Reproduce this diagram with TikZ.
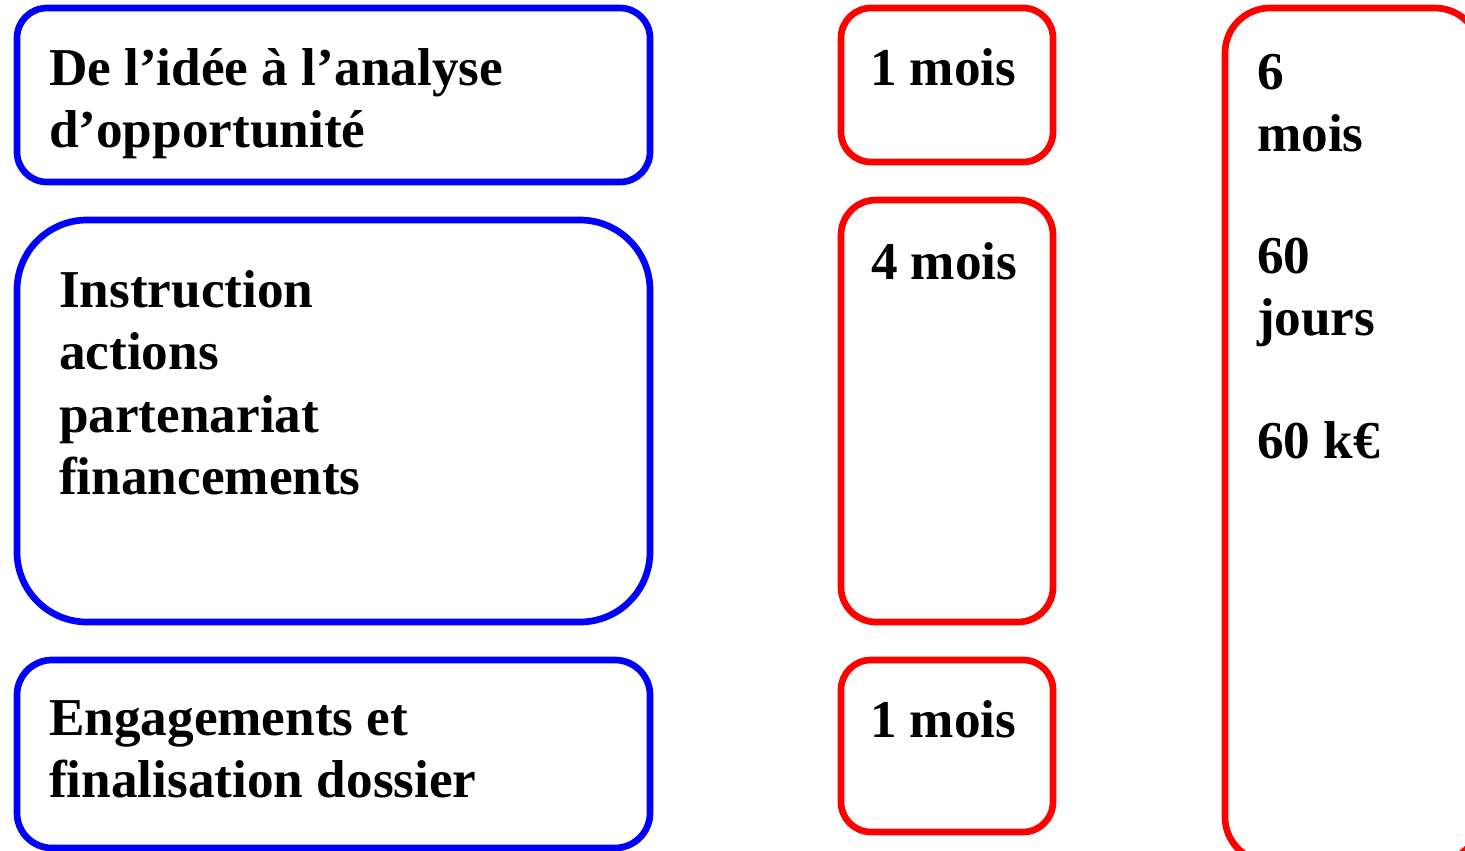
\documentclass[tikz,border=0pt]{standalone}
\usepackage{fontspec}
\setmainfont{Liberation Serif}
\usepackage{xcolor}
\definecolor{StepBlue}{HTML}{0000FF}
\definecolor{TimeRed}{HTML}{FF0000}
\usetikzlibrary{positioning}

\begin{document}
\begin{tikzpicture}[node distance=1cm, every node/.style={font=\fontsize{30.3}{35.3}\selectfont\bfseries}]
\tikzset{stepbox/.style={draw=StepBlue, line width=3.8pt, rounded corners=#1}}
\tikzset{timebox/.style={draw=TimeRed, line width=3.8pt, rounded corners=#1}}
\tikzset{txt/.style={inner sep=0pt, align=left}}
\useasboundingbox (0,0) rectangle (29.3,-17);
\clip (0,0) rectangle (29.3,-17);
% phases
\node[stepbox=0.6cm, minimum width=12.66cm, minimum height=3.48cm] (idee) at (6.67,-1.9) {};
\node[stepbox=1.4cm, minimum width=12.66cm, minimum height=8.04cm] (instruction) at (6.67,-8.42) {};
\node[stepbox=0.7cm, minimum width=12.66cm, minimum height=3.76cm] (engagement) at (6.67,-15.08) {};
% durees
\node[timebox=0.6cm, minimum width=4.24cm, minimum height=3.08cm] (duree1) at (18.94,-1.7) {};
\node[timebox=0.7cm, minimum width=4.24cm, minimum height=8.44cm] (duree2) at (18.94,-8.22) {};
\node[timebox=0.6cm, minimum width=4.24cm, minimum height=3.44cm] (duree3) at (18.94,-14.92) {};
\node[timebox=0.9cm, minimum width=5.1cm, minimum height=17.08cm] (total) at (27.05,-8.7) {};
% textes
\node[txt, below right=0.86cm and 0.7cm of idee.north west] (ideetxt) {De l’idée à l’analyse\\d’opportunité};
\node[txt, below right=1.08cm and 0.9cm of instruction.north west] (instructiontxt) {Instruction\\actions\\partenariat\\financements};
\node[txt, below right=0.88cm and 0.7cm of engagement.north west] (engagementtxt) {Engagements et\\finalisation dossier};
\node[txt, below right=0.88cm and 0.64cm of duree1.north west] (duree1txt) {1 mois};
\node[txt, below right=0.92cm and 0.66cm of duree2.north west] (duree2txt) {4 mois};
\node[txt, below right=0.88cm and 0.64cm of duree3.north west] (duree3txt) {1 mois};
\node[txt, below right=0.98cm and 0.7cm of total.north west] (totaltxt) {6\\mois\\[1.2cm]60\\jours\\[1.22cm]60 k€};
\end{tikzpicture}
\end{document}
